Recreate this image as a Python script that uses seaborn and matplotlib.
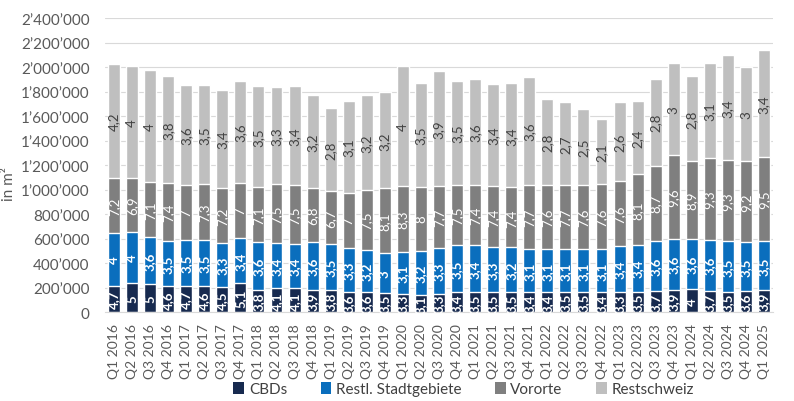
import matplotlib
matplotlib.use('Agg')
import matplotlib.pyplot as plt
from matplotlib.patches import Patch
from matplotlib.ticker import FuncFormatter, MultipleLocator
import seaborn as sns
import pandas as pd
import numpy as np

quarters = ['Q%d %d' % (q, y) for y in range(2016, 2026) for q in range(1, 5)][:37]

# angebotene Flaeche in m2 (aus dem Bild geschaetzt)
cbd = [217, 236, 231, 212, 217, 212, 204, 239, 182, 196, 196, 185,
       182, 163, 163, 158, 152, 141, 152, 163, 163, 163, 163, 163,
       163, 169, 169, 163, 163, 169, 177, 185, 190, 177, 169, 171, 182]
stadt = [427, 422, 386, 372, 376, 378, 361, 367, 389, 369, 361, 391,
         375, 362, 348, 326, 343, 362, 373, 386, 389, 372, 367, 353,
         353, 347, 347, 353, 381, 383, 407, 413, 408, 413, 410, 405, 402]
vororte = [451, 437, 446, 471, 445, 456, 449, 446, 448, 481, 481, 436,
           434, 448, 487, 527, 535, 522, 502, 489, 486, 495, 489, 522,
           522, 522, 522, 530, 524, 576, 612, 685, 636, 669, 663, 655, 683]
rest = [930, 914, 910, 872, 818, 808, 802, 837, 827, 790, 805, 763,
        676, 753, 777, 783, 976, 842, 941, 851, 865, 829, 848, 881,
        702, 680, 620, 531, 644, 598, 707, 750, 696, 774, 854, 770, 872]

# Leerstandsquoten in % (Beschriftung)
q_cbd = [4.7, 5, 5, 4.6, 4.7, 4.6, 4.5, 5.1, 3.8, 4.1, 4.1, 3.9,
         3.8, 3.6, 3.6, 3.5, 3.3, 3.1, 3.3, 3.4, 3.5, 3.5, 3.5, 3.4,
         3.4, 3.5, 3.5, 3.4, 3.3, 3.5, 3.7, 3.9, 4, 3.7, 3.5, 3.6, 3.9]
q_stadt = [4, 4, 3.6, 3.5, 3.5, 3.5, 3.3, 3.4, 3.6, 3.4, 3.4, 3.6,
           3.5, 3.3, 3.2, 3, 3.1, 3.2, 3.3, 3.5, 3.4, 3.3, 3.2, 3.1,
           3.1, 3.1, 3.1, 3.1, 3.4, 3.4, 3.6, 3.6, 3.6, 3.6, 3.5, 3.5, 3.5]
q_vororte = [7.2, 6.9, 7.1, 7.4, 7, 7.3, 7.2, 7, 7.1, 7.5, 7.5, 6.8,
             6.7, 7, 7.5, 8.1, 8.3, 8, 7.7, 7.5, 7.4, 7.4, 7.4, 7.7,
             7.6, 7.7, 7.6, 7.6, 7.6, 8.1, 8.7, 9.6, 8.9, 9.3, 9.3, 9.2, 9.5]
q_rest = [4.2, 4, 4, 3.8, 3.6, 3.5, 3.4, 3.6, 3.5, 3.3, 3.4, 3.2,
          2.8, 3.1, 3.2, 3.2, 4, 3.5, 3.9, 3.5, 3.6, 3.4, 3.4, 3.6,
          2.8, 2.7, 2.5, 2.1, 2.6, 2.4, 2.8, 3, 2.8, 3.1, 3.4, 3, 3.4]

names = ['CBDs', 'Restl. Stadtgebiete', 'Vororte', 'Restschweiz']
colors = ['#172a4f', '#0a6ebd', '#7f7f7f', '#bfbfbf']
label_colors = ['white', 'white', 'white', '#404040']
label_weights = ['bold', 'bold', 'normal', 'normal']

df = pd.DataFrame({'Quartal': quarters,
                   'CBDs': np.array(cbd) * 1000,
                   'Restl. Stadtgebiete': np.array(stadt) * 1000,
                   'Vororte': np.array(vororte) * 1000,
                   'Restschweiz': np.array(rest) * 1000})
cum = df[names].cumsum(axis=1)
quoten = [q_cbd, q_stadt, q_vororte, q_rest]

sns.set_style('white')
plt.rcParams['font.family'] = ['Lato', 'DejaVu Sans']

fig = plt.figure(figsize=(7.94, 4.02), dpi=100)
ax = fig.add_axes([0.1322, 0.2206, 0.8414, 0.7321])

# gestapelte Balken: kumulierte Summen von oben nach unten zeichnen
for i in reversed(range(len(names))):
  sns.barplot(x=df['Quartal'], y=cum[names[i]], color=colors[i],
              saturation=1, width=0.66, ax=ax, zorder=2)

# Beschriftungen in der Mitte der Segmente
for i, name in enumerate(names):
  lower = cum[name] - df[name]
  mids = lower + df[name] / 2
  for j in range(len(quarters)):
    txt = ('%g' % quoten[i][j]).replace('.', ',')
    ax.text(j, mids[j], txt, rotation=90, ha='center', va='center',
            fontsize=9.5, color=label_colors[i], fontweight=label_weights[i],
            zorder=3)

ax.set_xlim(-0.5, len(quarters) - 0.5)
ax.set_ylim(0, 2400000)
ax.yaxis.set_major_locator(MultipleLocator(200000))
ax.yaxis.set_major_formatter(FuncFormatter(
  lambda v, p: '{:,}'.format(int(v)).replace(',', '\u2019')))
ax.grid(axis='y', color='#d9d9d9', linewidth=0.8, zorder=0)
ax.set_axisbelow(True)
for s in ['top', 'right', 'left']:
  ax.spines[s].set_visible(False)
ax.spines['bottom'].set_color('#d9d9d9')

ax.tick_params(axis='x', rotation=90, labelsize=10, labelcolor='#595959',
               length=0, pad=8)
ax.tick_params(axis='y', labelsize=11, labelcolor='#595959', length=0, pad=11)
ax.set_xlabel('')
ax.set_ylabel('in m\u00b2', fontsize=11, color='#595959')
ax.yaxis.set_label_coords(-0.133, 0.44)

handles = [Patch(facecolor=c, edgecolor='none') for c in colors]
fig.legend(handles, names, loc='center', bbox_to_anchor=(0.584, 0.03),
           ncol=4, frameon=False, fontsize=11, handlelength=0.7,
           handleheight=0.9, handletextpad=0.3, columnspacing=2.2,
           labelcolor='#404040')

fig.savefig('out.png', dpi=100)
